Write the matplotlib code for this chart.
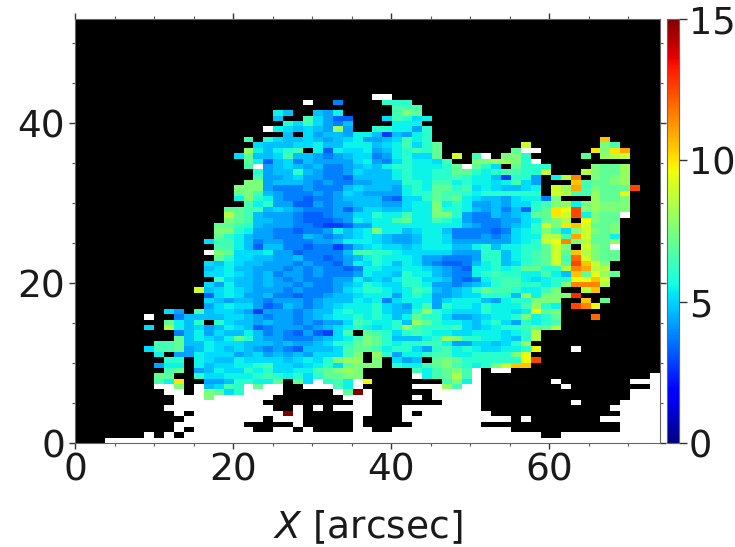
import numpy as np
import matplotlib
matplotlib.use("Agg")
import matplotlib.pyplot as plt
from matplotlib.ticker import MultipleLocator

N_ROWS, N_COLS = 79, 59
X_MAX, Y_MAX = 74.0, 53.0
VMIN, VMAX = 0, 15
X_TICKS = [0, 20, 40, 60]
Y_TICKS = [0, 20, 40]
CB_TICKS = [0, 5, 10, 15]
X_LABEL = r"$X$ [arcsec]"

# value read for each colour letter
LEVELS = dict(zip("yabcdefghijklmnopqrstuvwx",
                  [2.2, 2.8, 3.3, 3.8, 4.3, 4.7, 5.1, 5.5, 6.0, 6.5, 7.0, 7.5, 8.0,
                   8.5, 9.0, 9.5, 10.0, 10.5, 11.0, 11.5, 12.0, 12.5, 13.0, 13.5, 15.0]))

# row (from the bottom) -> (first column, cells); '.' black, '_' white
ROWS = {
64: [(30, "__")],
63: [(23, "_"), (26, "c"), (31, "hhh")],
62: [(32, "iii")],
61: [(20, "ge"), (24, "edg"), (32, "ikj")],
60: [(20, "e"), (23, "ifdbb"), (31, "fihfg")],
59: [(21, "hfifdce"), (32, "ggg")],
58: [(19, "_gfefedld"), (27, "d"), (30, "hhggdh")],
57: [(21, "e.fdeedgg"), (30, "eaedgh")],
56: [(17, "i"), (19, "hfeefedefgd"), (30, "defigh"), (53, "q")],
55: [(18, "feeeffgeeggg"), (30, "efgifhj"), (45, "n"), (53, "ki")],
54: [(17, "lgeghi.gbgffgg"), (30, "degh"), (34, "ihj"), (44, "j__"), (52, "pkpr")],
53: [(16, "fjeefieedcdeff"), (30, "cdghffj"), (38, "n"), (40, "i_"), (43, "kkh"), (51, "j"), (53, "lmn")],
52: [(17, "jgbefcedddd"), (28, "fgd"), (31, "cfhggfi"), (40, "kkll"), (44, "kh_")],
51: [(17, "i_defedeccdef"), (30, "eghhgggh"), (38, "j_jhf"), (44, "jhhh"), (52, "kjjl")],
50: [(18, "hdeehedccdfe"), (30, "eeghgghhjjhghiihhn"), (51, "mkjjl")],
49: [(18, "iddefddccbee"), (30, "eeghgghhihggea"), (44, "hhd"), (48, "gms"), (52, "kjkl")],
48: [(17, "kkdeeedcdccdd"), (30, "eeehhgiighggfgifd"), (50, "qijjkl")],
47: [(16, "kkkdcccdcccefe"), (30, "eedghgjjhifgfeefg"), (48, "nlrikjjju")],
46: [(16, "jkiedcccdcdfed"), (30, "dddghhjiihghhhhhh"), (48, "nmiiljjo")],
45: [(16, "gkhgdccbccdeef"), (29, "ee"), (31, "cbffhjijgfeedfgg"), (47, "ck"), (52, "ljjk")],
44: [(17, "ighddbbdcddef"), (29, "eedd"), (33, "fggkghgddedffhikl"), (50, "gklkkk")],
43: [(15, "jjiiefedcccdbdef"), (29, "ffeefggkhhgedecebhjpoukl"), (53, "kkk")],
42: [(15, "mjiedddcbbcddfgf"), (29, "fhggiggkkhdccedefjjpnug"), (52, "kjj_")],
41: [(15, "kjieeddcbbbcdggf"), (29, "fggijggihgdcccddfgjkm.o"), (52, "kjj")],
40: [(14, "jjihedddccbaabddefg"), (30, "gggggggggedcca"), (43, "defhnkpqn"), (52, "jjk")],
39: [(14, "kkhgddccbccdgefg"), (30, "kgg"), (33, "efggeccccbcfghkif"), (50, "knkjk")],
38: [(14, "jhgeddcccedcdefg"), (30, "fedd"), (34, "eggfcccdcdfggmmi"), (50, "rnjjg")],
37: [(13, "fiigecddcccddegg"), (29, "gfedd"), (34, "eggfddddddfghno"), (49, "skmjjl")],
36: [(14, "iigebeeccbccacef"), (30, "gffef"), (35, "gggeeghegghhjnk"), (51, "nkj_")],
35: [(13, "_kjfffgddbccccei"), (29, "ihhgffff"), (37, "fdddhheghijnjqmkjj")],
34: [(14, "jhffeeddeccbcdegi"), (30, "hggg"), (34, "fddcccdhheghijnit"), (51, "nkjj")],
33: [(13, "fegfeedddcdccbdgf"), (30, "hgegfdcbbceghefhijnj"), (50, "uqnk")],
32: [(13, "efgeedddcdcdccbcc"), (29, "ggffggfedcbgghghjjhhmsrmm")],
31: [(13, "ffgfedecddcdcccdf"), (29, "gffehggedccghihhggigek"), (50, "qjolj")],
30: [(14, "ifeededcdcccddge"), (30, "feghhffecbcghiigfghhim"), (50, "ooqn")],
29: [(13, "fdgeededdcdccdeff"), (29, "hgffhhgddcdefhiihhghhg"), (49, "ksssm")],
28: [(12, "nefgfedddcdcccdfg"), (29, "hhgfgihedefhjiihgg"), (47, "ik"), (51, "mq")],
27: [(13, "bfgfddeccbccdeeff"), (29, "gggdghgddeffhhhe"), (45, "lgkkk"), (50, "v")],
26: [(13, "fedeedcdddcdeeegg"), (29, "fgcfgggdfgggedghhk"), (47, "kk"), (51, "q"), (53, "j")],
25: [(13, "dfgffdbcedcdefggg"), (29, "ghfedgidhggfhgggilhg"), (50, "uso")],
24: [(9, "fd"), (12, "ieffedadddcdeeghg"), (29, "ghfeehlhgfffhggfg"), (46, "ojk")],
23: [(7, "_"), (10, "ce"), (12, "eeeffedcddcdefggh"), (29, "ghgegjhhfddefgghkghj"), (52, "t")],
22: [(9, "jgeh"), (14, "hfeededdcdcddfi"), (29, "hggheljhggfeghfdhghi")],
21: [(7, "f"), (9, "mgefdegfebcdddcdefgh"), (29, "gfghlihhhifefghhijjm")],
20: [(10, "cegdfeegecdcbdbafi"), (29, "jihfhihggffgggfghm")],
19: [(10, "jegfegjheddcccdefgi"), (29, "kjheeeghlkhhggfehm")],
18: [(8, "iij"), (11, "eegfffeeededdefhhj"), (29, "kjhghhiigddffefhl")],
17: [(7, "fiijd"), (12, "egfefedcdcbeeefij"), (29, "jighhfdhighgffgghm"), (46, "o"), (50, "_")],
16: [(8, "g"), (10, "dd"), (12, "gfffdefdededfffik"), (30, "lhdgghiigghhhhkl"), (45, "o")],
15: [(9, "hh"), (12, "gfeegffffefgfhkll"), (30, "k"), (32, "fde"), (36, "jkjhhhhhh"), (45, "ou")],
14: [(8, "dgg"), (12, "geffgghiffefghfjk"), (29, "kk"), (32, "hggijkihghg"), (42, "kn"), (44, "qq")],
13: [(9, "ij"), (12, "degffhghffggijklk"), (34, "igijki_"), (42, "__")],
12: [(8, "jj"), (12, "hffggghihghfhjjkk"), (34, "_gijmi_"), (58, "_")],
11: [(8, "igp"), (13, "ddehhggj"), (22, "jf_hig_o"), (37, "ikg_"), (48, "_"), (56, "___")],
10: [(8, "__k"), (12, "_efih_j__"), (23, "___ig_"), (34, "___li__"), (49, "_"), (58, "_")],
9: [(9, "__"), (12, "_kjfh____"), (26, "_jx_"), (36, "_____"), (56, "___")],
8: [(10, "___k______"), (27, "___"), (34, "_"), (36, "_____"), (56, "___")],
7: [(10, "_________"), (28, "__"), (37, "____"), (50, "_"), (55, "____")],
6: [(9, "___________"), (22, "_"), (24, "_"), (26, "____"), (33, "________"), (54, "_____")],
5: [(10, "_"), (12, "_________"), (21, "x_"), (28, "__"), (33, "_"), (35, "_______"), (55, "____")],
4: [(11, "________"), (20, "___"), (28, "_"), (33, "___________"), (45, "_"), (53, "______")],
3: [(10, "_______"), (22, "_"), (28, "_"), (34, "_______"), (55, "____")],
2: [(10, "_"), (12, "______"), (20, "__"), (23, "_"), (28, "__"), (32, "____________"), (55, "____")],
1: [(7, "_"), (9, "_"), (11, "____________________________________"), (49, "__________")],
0: [(3, "________________________________________________________")],
}

WHITE_VALUE = -1.0  # below the colour range

grid = np.full((N_ROWS, N_COLS), np.nan)
for r, segs in ROWS.items():
    for start, cells in segs:
        for i, ch in enumerate(cells):
            c = start + i
            if c >= N_COLS:
                break
            if ch == ".":
                grid[r, c] = np.nan
            elif ch == "_":
                grid[r, c] = WHITE_VALUE
            else:
                grid[r, c] = LEVELS[ch]

cmap = plt.get_cmap("jet").copy()
cmap.set_bad("black")
cmap.set_under("white")

W, H = 735, 547
fig = plt.figure(figsize=(W / 100, H / 100), dpi=100)
L, R, T, B = 75, 660, 19, 443
ax = fig.add_axes([L / W, 1 - B / H, (R - L) / W, (B - T) / H])
im = ax.imshow(np.ma.masked_invalid(grid), origin="lower", cmap=cmap, vmin=VMIN, vmax=VMAX,
               extent=[0, X_MAX, 0, Y_MAX], aspect="auto", interpolation="nearest")
ax.set_xlim(0, X_MAX)
ax.set_ylim(0, Y_MAX)
ax.set_xticks(X_TICKS)
ax.set_yticks(Y_TICKS)
ax.xaxis.set_minor_locator(MultipleLocator(5))
ax.yaxis.set_minor_locator(MultipleLocator(5))
ax.tick_params(which="major", direction="out", length=4, width=1, labelsize=27, color="#333333",
               labelcolor="#1a1a1a", right=True, top=True, pad=3)
ax.tick_params(which="minor", direction="out", length=2.5, width=0.8, color="#555555",
               right=True, top=True)
for s in ax.spines.values():
    s.set_linewidth(0.8)
    s.set_color("#666666")
ax.set_xlabel(X_LABEL, fontsize=27, color="#1a1a1a", labelpad=14)

cax = fig.add_axes([667 / W, 1 - B / H, 12 / W, (B - T) / H])
cb = fig.colorbar(im, cax=cax, ticks=CB_TICKS)
cb.ax.tick_params(labelsize=26.5, length=6, width=1, color="#333333", labelcolor="#1a1a1a", pad=1)
cb.outline.set_edgecolor("#666666")
cb.outline.set_linewidth(0.8)

fig.savefig("out.png", dpi=100)
